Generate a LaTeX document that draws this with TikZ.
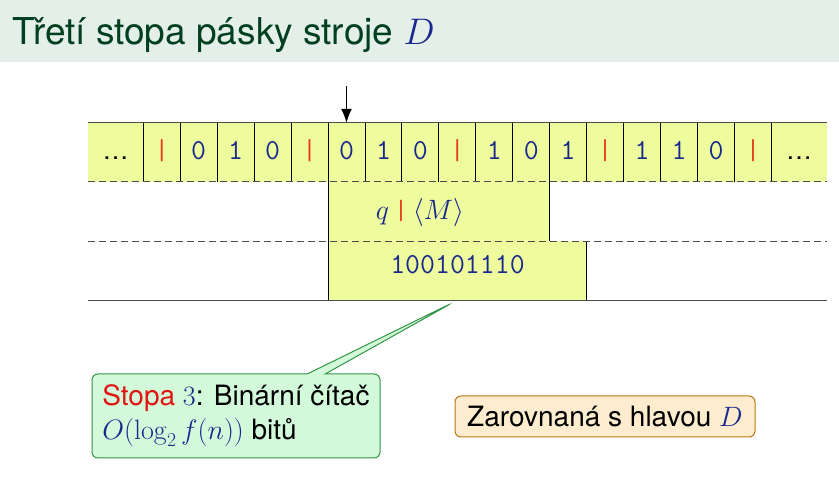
\RequirePackage{fix-cm}
\documentclass[tikz,border=0pt]{standalone}
\usepackage[no-math]{fontspec}
\setmainfont{TeX Gyre Heros}
\usepackage{tikz}
\usetikzlibrary{arrows.meta}
\usetikzlibrary{shapes.callouts}
\definecolor{tapeyellow}{RGB}{238,252,158}
\definecolor{titlebar}{RGB}{229,239,233}
\definecolor{titlegreen}{RGB}{0,64,32}
\definecolor{mathblue}{RGB}{25,40,140}
\definecolor{barred}{RGB}{232,60,30}
\definecolor{alertred}{RGB}{225,20,20}
\definecolor{notegreen}{RGB}{210,250,218}
\definecolor{notegreenline}{RGB}{50,150,70}
\definecolor{noteorange}{RGB}{254,236,206}
\definecolor{noteorangeline}{RGB}{185,120,20}
\begin{document}
\begin{tikzpicture}[x=1pt,y=1pt,
  sym/.style={font=\fontsize{29}{32}\ttfamily,text=mathblue,anchor=base,inner sep=0pt},
  sep/.style={font=\fontsize{29}{32}\ttfamily,text=barred,anchor=base,inner sep=0pt},
  dots/.style={font=\fontsize{26}{32}\selectfont,anchor=base,inner sep=0pt},
  wall/.style={draw=black,line width=1pt},
  track/.style={draw=black!70,line width=1pt},
  trackdash/.style={draw=black!70,line width=1pt,dash pattern=on 6.5pt off 4.5pt}]
\useasboundingbox (0,0) rectangle (839,485);
\fill[white] (0,0) rectangle (839,485);
\fill[titlebar] (0,423) rectangle (839,485);
\node[font=\fontsize{37}{44}\selectfont,text=titlegreen,anchor=base west,inner sep=0pt] (title) at (12,440) {Třetí stopa pásky stroje {\color{mathblue}$D$}};

% stopy
\fill[tapeyellow] (88,303) rectangle (827,362);
\fill[tapeyellow] (328.05,243.5) rectangle (549.75,303);
\fill[tapeyellow] (328.05,184.5) rectangle (586.7,243.5);

\draw[wall] (143.3,303) -- (143.3,362);
\draw[wall] (180.25,303) -- (180.25,362);
\draw[wall] (217.2,303) -- (217.2,362);
\draw[wall] (254.15,303) -- (254.15,362);
\draw[wall] (291.1,303) -- (291.1,362);
\draw[wall] (328.05,303) -- (328.05,362);
\draw[wall] (365.0,303) -- (365.0,362);
\draw[wall] (401.95,303) -- (401.95,362);
\draw[wall] (438.9,303) -- (438.9,362);
\draw[wall] (475.85,303) -- (475.85,362);
\draw[wall] (512.8,303) -- (512.8,362);
\draw[wall] (549.75,303) -- (549.75,362);
\draw[wall] (586.7,303) -- (586.7,362);
\draw[wall] (623.65,303) -- (623.65,362);
\draw[wall] (660.6,303) -- (660.6,362);
\draw[wall] (697.55,303) -- (697.55,362);
\draw[wall] (734.5,303) -- (734.5,362);
\draw[wall] (771.45,303) -- (771.45,362);

\draw[wall] (328.05,243.5) -- (328.05,303);
\draw[wall] (549.75,243.5) -- (549.75,303);
\draw[wall] (328.05,184.5) -- (328.05,243.5);
\draw[wall] (586.7,184.5) -- (586.7,243.5);

\draw[track] (88,362) -- (827,362);
\draw[trackdash] (88,303) -- (827,303);
\draw[trackdash] (88,243.5) -- (827,243.5);
\draw[track] (88,184.5) -- (827,184.5);

\node[dots] (t0) at (115.6,325) {\dots};
\node[sep] (t1) at (161.8,325) {|};
\node[sym] (t2) at (198.7,325) {0};
\node[sym] (t3) at (235.7,325) {1};
\node[sym] (t4) at (272.6,325) {0};
\node[sep] (t5) at (309.6,325) {|};
\node[sym] (t6) at (346.5,325) {0};
\node[sym] (t7) at (383.5,325) {1};
\node[sym] (t8) at (420.4,325) {0};
\node[sep] (t9) at (457.4,325) {|};
\node[sym] (t10) at (494.3,325) {1};
\node[sym] (t11) at (531.3,325) {0};
\node[sym] (t12) at (568.2,325) {1};
\node[sep] (t13) at (605.2,325) {|};
\node[sym] (t14) at (642.1,325) {1};
\node[sym] (t15) at (679.1,325) {1};
\node[sym] (t16) at (716.0,325) {0};
\node[sep] (t17) at (753.0,325) {|};
\node[dots] (t18) at (799.2,325) {\dots};

\node[font=\fontsize{28}{32}\selectfont,text=mathblue,anchor=base,inner sep=0pt] (state) at (420,265) {$q$\,{\ttfamily\color{barred}|}\,$\langle M\rangle$};
\node[sym] (counter) at (457.5,211) {\addfontfeatures{LetterSpace=4}100101110};

% hlava
\coordinate (headtop) at (346.5,399);
\coordinate (head) at (346.5,362);
\draw[line width=1.8pt,-{Latex[length=14pt,width=11pt]}] (headtop) -- (head);

% popisky
\coordinate (tip) at (452,182);
\node[rectangle callout,callout absolute pointer={(tip)},callout pointer width=18pt,rounded corners=6pt,
  fill=notegreen,draw=notegreenline,line width=1pt,minimum width=288pt,minimum height=84pt,
  align=left,font=\fontsize{28}{34}\selectfont] (stopa) at (236,69)
  {{\color{alertred}Stopa} {\color{mathblue}$3$}: Binární čítač\\{\color{mathblue}$O(\log_2 f(n))$} bitů};
\node[rectangle,rounded corners=6pt,fill=noteorange,draw=noteorangeline,line width=1pt,
  minimum width=300pt,minimum height=41pt,font=\fontsize{28}{34}\selectfont] (zarov) at (605,68.5)
  {Zarovnaná s hlavou {\color{mathblue}$D$}};

\end{tikzpicture}
\end{document}
